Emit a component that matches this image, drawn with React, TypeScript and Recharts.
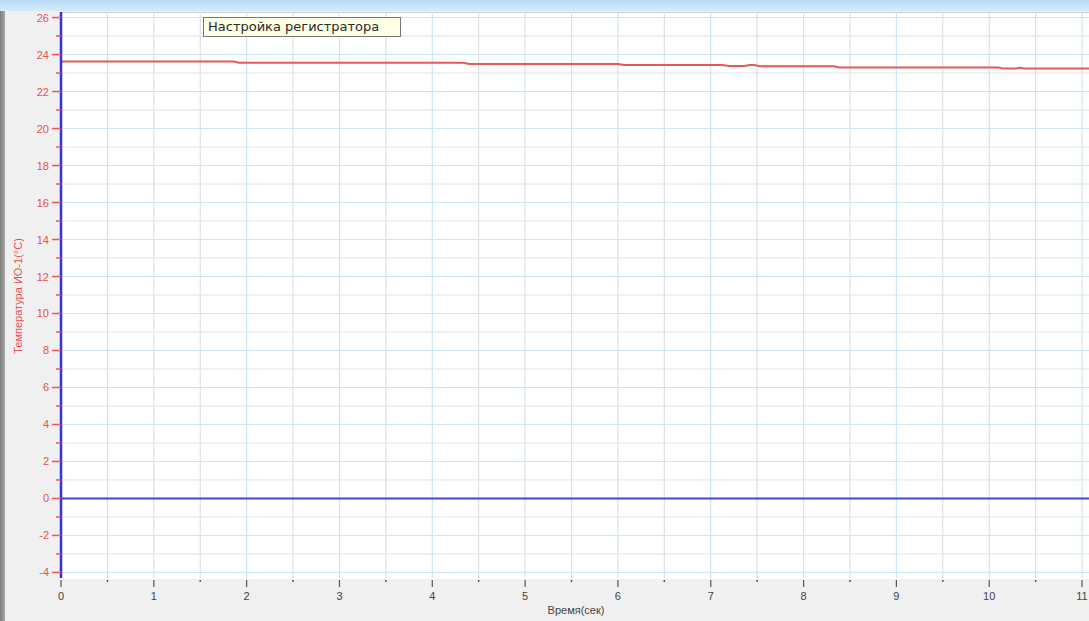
import React from "react";
import { LineChart, Line, XAxis, YAxis, ReferenceLine } from "recharts";

const times = [0, 1.86, 1.92, 4.33, 4.4, 6.0, 6.07, 7.12, 7.2, 7.36, 7.42, 7.47, 7.53, 8.33, 8.38, 10.1, 10.15, 10.28, 10.33, 10.38, 11.075];
const temps = [23.62, 23.62, 23.56, 23.56, 23.49, 23.49, 23.44, 23.44, 23.38, 23.38, 23.43, 23.43, 23.37, 23.37, 23.3, 23.3, 23.24, 23.24, 23.28, 23.24, 23.24];

const xTicks = [0, 0.5, 1, 1.5, 2, 2.5, 3, 3.5, 4, 4.5, 5, 5.5, 6, 6.5, 7, 7.5, 8, 8.5, 9, 9.5, 10, 10.5, 11];
const yTicks = [-4, -3, -2, -1, 0, 1, 2, 3, 4, 5, 6, 7, 8, 9, 10, 11, 12, 13, 14, 15, 16, 17, 18, 19, 20, 21, 22, 23, 24, 25, 26];

const title = "Настройка регистратора";
const xLabel = "Время(сек)";
const yLabel = "Температура ИО-1(°C)";

const data = times.map((t, i) => ({ t, v: temps[i] }));

const YTick = (props: any) => {
  const { x, y, payload } = props;
  const v = payload.value;
  const major = v % 2 === 0;
  return (
    <g>
      <line x1={x - (major ? 9 : 5)} x2={x} y1={y} y2={y} stroke="#e85858" strokeWidth={1.5} />
      {major && (
        <text x={x - 12} y={y + 4} textAnchor="end" fill="#e85050" fontSize={11} fontFamily="Liberation Sans, Arial, sans-serif">
          {v}
        </text>
      )}
    </g>
  );
};

const XTick = (props: any) => {
  const { x, y, payload } = props;
  const v = payload.value;
  const major = Number.isInteger(v);
  return (
    <g>
      {major ? (
        <line x1={x} x2={x} y1={y + 2} y2={y + 9} stroke="#555" strokeWidth={1.2} />
      ) : (
        <line x1={x} x2={x} y1={y + 2} y2={y + 4} stroke="#555" strokeWidth={1.5} />
      )}
      {major && (
        <text x={x} y={y + 22} textAnchor="middle" fill="#444" fontSize={11} fontFamily="Liberation Sans, Arial, sans-serif">
          {v}
        </text>
      )}
    </g>
  );
};

export default function App() {
  return (
    <div style={{ position: "fixed", left: 0, top: 0, width: 1089, height: 621, background: "#f0f0f0", overflow: "hidden" }}>
      <div style={{ position: "absolute", left: 0, top: 0, width: 1089, height: 11, background: "linear-gradient(#b8dcf6, #d6ebfa)" }} />
      <div style={{ position: "absolute", left: 0, top: 11, width: 5, height: 610, background: "linear-gradient(to right, #7c7c7c, #a8a8a8)" }} />
      <div style={{ position: "absolute", left: 61, top: 12, width: 1028, height: 566, background: "#ffffff", borderTop: "1px solid #cfcfcf" }} />
      <div style={{ position: "absolute", left: 0, top: 0 }}>
        <LineChart width={1089} height={621} data={data} margin={{ top: 12, right: 0, bottom: 0, left: 0 }}>
          {yTicks.map((v) => (
            <ReferenceLine key={"h" + v} y={v} stroke={v % 2 === 0 ? "#cde6f4" : "#e2e2e2"} strokeWidth={1} />
          ))}
          {xTicks.map((v) => (
            <ReferenceLine key={"v" + v} x={v} stroke={Number.isInteger(v) ? "#cde6f4" : "#e0e0e0"} strokeWidth={1.2} />
          ))}
          <XAxis
            type="number"
            dataKey="t"
            domain={[0, 11.075]}
            ticks={xTicks}
            interval={0}
            height={43}
            axisLine={false}
            tickLine={false}
            tickSize={0}
            tickMargin={0}
            tick={<XTick />}
            allowDataOverflow
          />
          <YAxis
            type="number"
            domain={[-4.3, 26.3]}
            ticks={yTicks}
            interval={0}
            width={61}
            axisLine={{ stroke: "#3232e0", strokeWidth: 2.5 }}
            tickLine={false}
            tickSize={0}
            tickMargin={0}
            tick={<YTick />}
            allowDataOverflow
          />
          <ReferenceLine y={0} stroke="#4646d6" strokeWidth={2} />
          <Line type="linear" dataKey="v" stroke="#e35a5a" strokeWidth={2} dot={false} isAnimationActive={false} />
        </LineChart>
      </div>
      <div
        style={{
          position: "absolute",
          left: 535,
          top: 604,
          width: 82,
          textAlign: "center",
          fontFamily: "Liberation Sans, Arial, sans-serif",
          fontSize: 11,
          color: "#444",
          whiteSpace: "nowrap",
        }}
      >
        {xLabel}
      </div>
      <div
        style={{
          position: "absolute",
          left: 18,
          top: 296,
          transform: "translate(-50%, -50%) rotate(-90deg)",
          fontFamily: "Liberation Sans, Arial, sans-serif",
          fontSize: 11,
          color: "#e85050",
          whiteSpace: "nowrap",
        }}
      >
        {yLabel}
      </div>
      <div
        style={{
          position: "absolute",
          left: 203,
          top: 17,
          width: 198,
          height: 20,
          boxSizing: "border-box",
          background: "#ffffe6",
          border: "1px solid #777",
          fontFamily: "DejaVu Sans, Verdana, sans-serif",
          fontSize: 13,
          fontWeight: 400,
          lineHeight: "18px",
          color: "#2a2a2a",
          paddingLeft: 4,
          letterSpacing: 0,
          whiteSpace: "nowrap",
        }}
      >
        {title}
      </div>
    </div>
  );
}
